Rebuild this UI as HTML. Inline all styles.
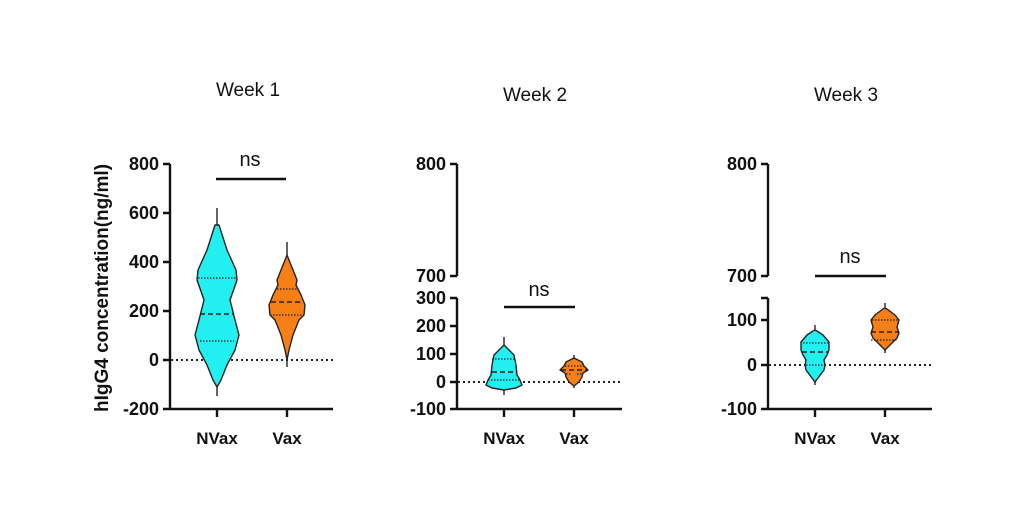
<!DOCTYPE html>
<html><head><meta charset="utf-8"><style>
html,body{margin:0;padding:0;background:#fff;width:1016px;height:519px;overflow:hidden}
text{font-family:"Liberation Sans",Arial,sans-serif}
.t{font-size:18px;font-weight:bold;text-anchor:end}
.c{font-size:17px;font-weight:bold;text-anchor:middle}
</style></head><body>
<svg width="1016" height="519" viewBox="0 0 1016 519" xmlns="http://www.w3.org/2000/svg">
<g fill="#111">
<text x="248" y="96" font-size="19" text-anchor="middle">Week 1</text>
<text x="535" y="101" font-size="19" text-anchor="middle">Week 2</text>
<text x="846" y="101" font-size="19" text-anchor="middle">Week 3</text>
<text transform="translate(108,288) rotate(-90)" font-size="19" font-weight="bold" text-anchor="middle">hIgG4 concentration(ng/ml)</text>
<text class="t" x="159" y="170">800</text>
<text class="t" x="159" y="219">600</text>
<text class="t" x="159" y="268">400</text>
<text class="t" x="159" y="317">200</text>
<text class="t" x="159" y="366">0</text>
<text class="t" x="159" y="415">-200</text>
<text class="c" x="217" y="444">NVax</text>
<text class="c" x="287" y="444">Vax</text>
<text x="250" y="166" font-size="20" text-anchor="middle">ns</text>
<text class="t" x="446" y="170">800</text>
<text class="t" x="446" y="282">700</text>
<text class="t" x="446" y="304">300</text>
<text class="t" x="446" y="332">200</text>
<text class="t" x="446" y="360">100</text>
<text class="t" x="446" y="388">0</text>
<text class="t" x="446" y="415">-100</text>
<text class="c" x="504" y="444">NVax</text>
<text class="c" x="574" y="444">Vax</text>
<text x="539" y="296" font-size="20" text-anchor="middle">ns</text>
<text class="t" x="757" y="170">800</text>
<text class="t" x="757" y="282">700</text>
<text class="t" x="757" y="326">100</text>
<text class="t" x="757" y="371">0</text>
<text class="t" x="757" y="415">-100</text>
<text class="c" x="815" y="444">NVax</text>
<text class="c" x="885" y="444">Vax</text>
<text x="850" y="263" font-size="20" text-anchor="middle">ns</text>
</g>
<g stroke="#111" stroke-width="2.4" fill="none">
<path d="M170,164V409H333M163,164H170M163,213H170M163,262H170M163,311H170M163,360H170M163,409H170M217,409V417M287,409V417"/>
<path d="M216,179H286"/>
<path d="M457,164V276M450,164H457M450,276H457"/>
<path d="M457,298V409H622M450,298H457M450,326H457M450,354H457M450,382H457M450,409H457M504,409V417M574,409V417"/>
<path d="M504,307H575"/>
<path d="M768,164V276M761,164H768M761,276H768"/>
<path d="M768,298V409H932M761,298H768M761,320H768M761,365H768M761,409H768M815,409V417M885,409V417"/>
<path d="M815,276H886"/>
</g>
<g stroke="#222" stroke-width="2" stroke-dasharray="2,3">
<path d="M171,360H333"/><path d="M458,382H622"/><path d="M769,365H932"/>
</g>
<g stroke="#222" stroke-width="1.4" stroke-linejoin="round">
<path d="M217,208V225M287,242V255M504,337V345M574,355V358M815,325V330M885,303V308M217,387V396M287,360V367M504,390V395M574,386V388M815,382V385M885,350V353"/>
<polygon fill="#22f0f0" points="217,225 219,225 227,250 236,270 237,280 230,300 235,320 239,335 235,350 227,365 221,380 217,387 213,380 207,365 199,350 195,335 199,320 204,300 197,280 198,270 207,250 215,225"/>
<polygon fill="#f77f16" points="287,255 293,270 297,280 296,285 301,295 305,305 304,315 299,320 293,335 289,350 287,360 285,350 281,335 275,320 270,315 269,305 273,295 278,285 277,280 281,270"/>
<polygon fill="#22f0f0" points="504,345 507,348 514,355 516,365 517,375 520,380 522,385 516,388 504,390 492,388 486,385 488,380 491,375 492,365 494,355 501,348"/>
<polygon fill="#f77f16" points="574,358 576,359 582,362 584,366 588,370 583,373 582,377 579,382 574,386 569,382 566,377 565,373 560,370 564,366 566,362 572,359"/>
<polygon fill="#22f0f0" points="815,330 817,331 823,335 829,342 829,350 827,355 824,360 825,365 824,370 818,378 815,382 812,378 806,370 805,365 806,360 803,355 801,350 801,342 807,335 813,331"/>
<polygon fill="#f77f16" points="885,308 887,309 895,315 899,320 897,327 899,333 897,338 890,345 885,350 880,345 873,338 871,333 873,327 871,320 875,315 883,309"/>
</g>
<g stroke="#222" stroke-width="1.2" stroke-dasharray="1.5,1.5">
<path d="M198,278H236M200,341H234M277,289H297M270,315H304M492,359H516M488,380H520M565,366H584M577,374H583M566,374H571M803,343H829M806,365H825M872,320H899M871,340H897"/>
</g>
<g stroke="#222" stroke-width="1.5" stroke-dasharray="5,3">
<path d="M200,314H234M271,302H303M492,372H517M561,370H587M802,352H828M871,332H899"/>
</g>
</svg>
</body></html>
